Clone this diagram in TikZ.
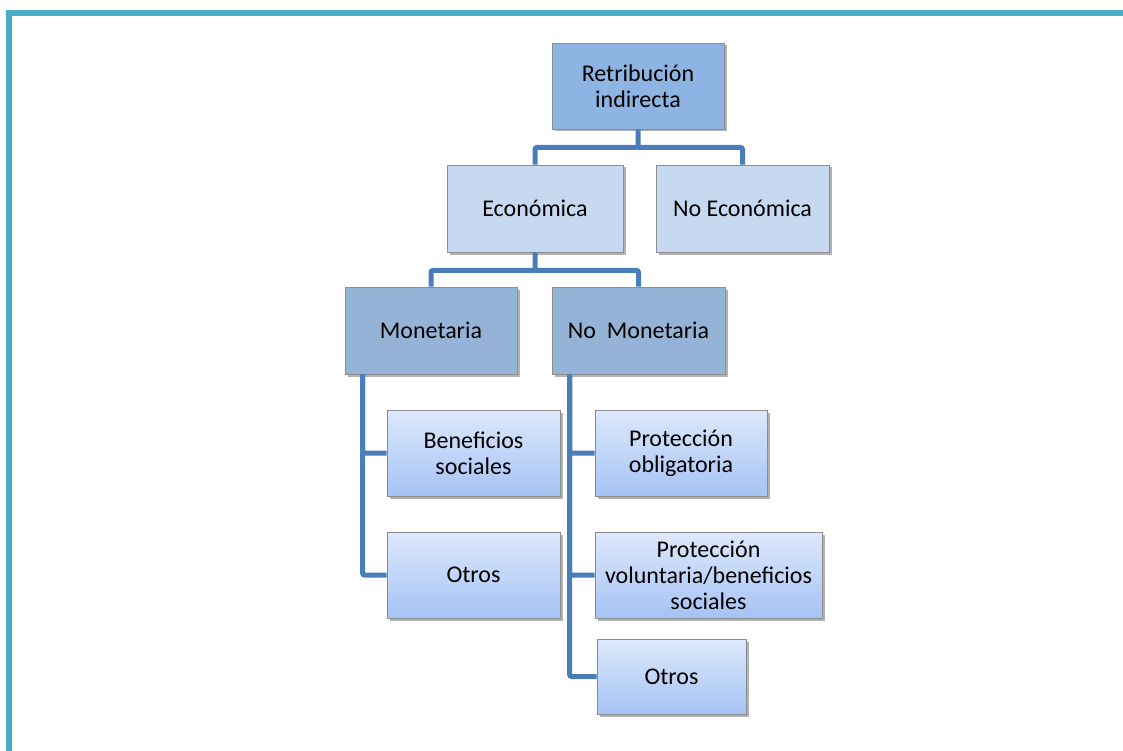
\documentclass[tikz,border=0pt]{standalone}
\usepackage{fontspec}
\setmainfont{Carlito}
\usetikzlibrary{shadows,calc}
\definecolor{frame}{HTML}{4BACC6}
\definecolor{conn}{HTML}{4A7EBB}
\definecolor{topfill}{HTML}{8EB4E3}
\definecolor{lvlone}{HTML}{C6D9F1}
\definecolor{lvltwo}{HTML}{95B3D7}
\definecolor{gradtop}{HTML}{DDE8FB}
\definecolor{gradbot}{HTML}{A5C3F5}
\definecolor{edge}{HTML}{8C8C8C}
\tikzset{
  box/.style={draw=edge, line width=0.9pt, align=center, inner sep=0pt,
    font=\fontsize{24}{26}\selectfont,
    drop shadow={shadow xshift=2.5pt, shadow yshift=-2.5pt, fill=black, opacity=0.3}},
  topbox/.style={box, fill=topfill},
  onebox/.style={box, fill=lvlone},
  twobox/.style={box, fill=lvltwo},
  leafbox/.style={box, top color=gradtop, bottom color=gradbot},
  link/.style={draw=conn, line width=5pt, rounded corners=2pt},
}
\begin{document}
\begin{tikzpicture}[x=1pt,y=-1pt]
\useasboundingbox (0,0) rectangle (1123,751);
\fill[white] (0,0) rectangle (1123,751);
% frame
\fill[frame] (6,10) rectangle (1123,16);
\fill[frame] (6,10) rectangle (12,751);

% nodes (centres from reference)
\node[topbox, minimum width=172pt, minimum height=86pt] (top) at (638,86) {Retribución\\indirecta};
\node[onebox, minimum width=176pt, minimum height=87pt] (eco) at (535,208.5) {Económica};
\node[onebox, minimum width=173pt, minimum height=87pt] (noeco) at (742.5,208.5) {No Económica};
\node[twobox, minimum width=172pt, minimum height=87pt] (mon) at (431,330.5) {Monetaria};
\node[twobox, minimum width=173pt, minimum height=87pt] (nomon) at (638.5,330.5) {No\ \ Monetaria};
\node[leafbox, minimum width=173pt, minimum height=86pt] (ben) at (473.5,453) {Beneficios\\sociales};
\node[leafbox, minimum width=173pt, minimum height=86pt] (ota) at (473.5,575) {Otros};
\node[leafbox, minimum width=172pt, minimum height=86pt] (pobl) at (681,453) {Protección\\obligatoria};
\node[leafbox, minimum width=227pt, minimum height=86pt] (pvol) at (708.5,575) {Protección\\voluntaria/beneficios\\sociales};
\node[leafbox, minimum width=149pt, minimum height=75pt] (otb) at (671.5,676.5) {Otros};

% connectors
\coordinate (t1) at ($(top.south)+(0,18)$);
\draw[link] (top.south) -- (t1) -| (eco.north);
\draw[link] (t1) -| (noeco.north);
\coordinate (e1) at ($(eco.south)+(0,18)$);
\draw[link] (eco.south) -- (e1) -| (mon.north);
\draw[link] (e1) -| (nomon.north);
\coordinate (mt) at ($(mon.south west)+(18,0)$);
\draw[link] (mt) |- (ben.west);
\draw[link] (mt) |- (ota.west);
\coordinate (nt) at ($(nomon.south west)+(18,0)$);
\draw[link] (nt) |- (pobl.west);
\draw[link] (nt) |- (pvol.west);
\draw[link] (nt) |- (otb.west);
\end{tikzpicture}
\end{document}
